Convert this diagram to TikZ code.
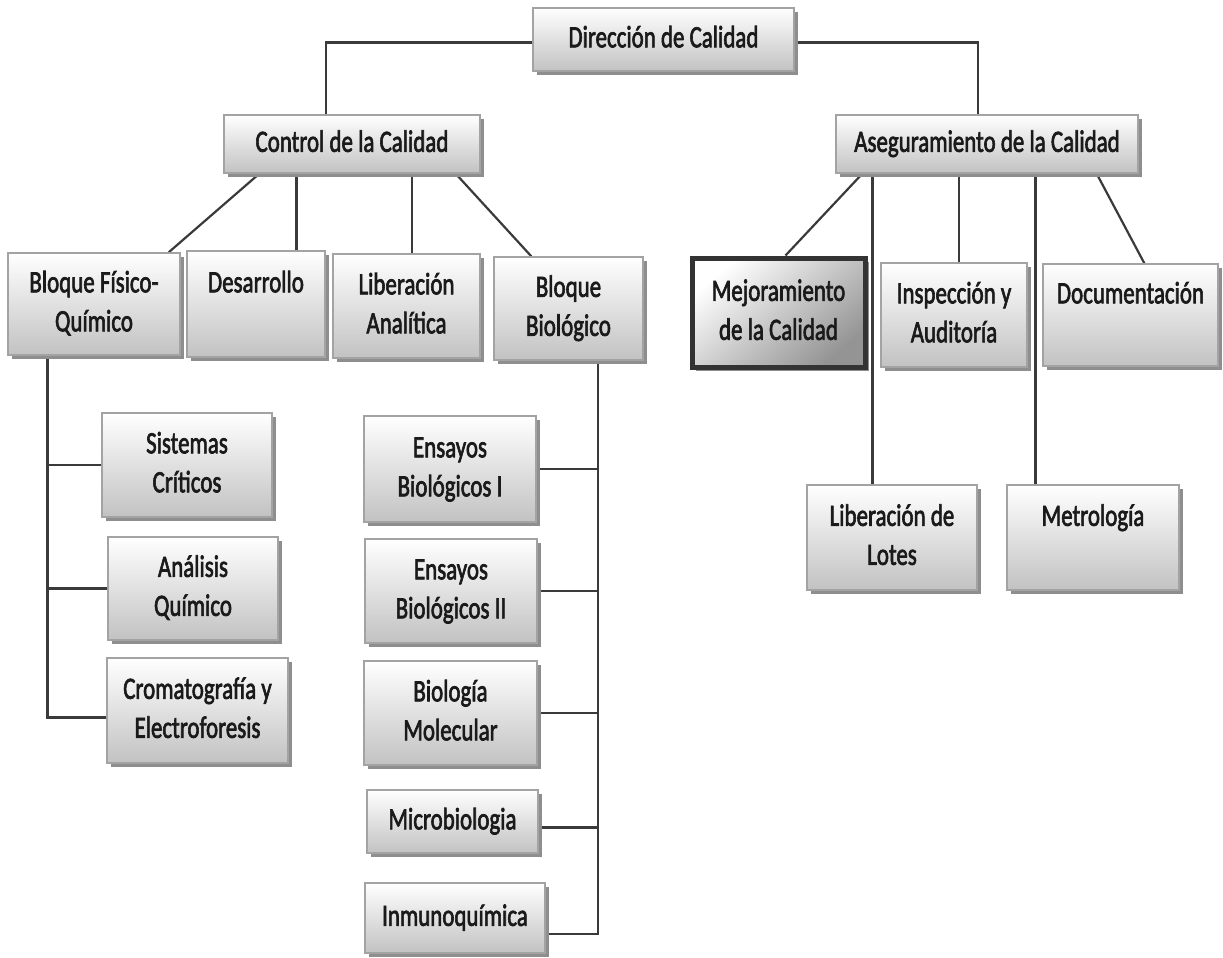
\documentclass[tikz,border=0pt]{standalone}
\usepackage{fontspec}
\setmainfont{Carlito}
\newfontfamily\labelfont{Carlito}[FakeBold=2.5]
\usepackage{graphicx}
\usetikzlibrary{shadows,backgrounds,calc}

\definecolor{boxline}{HTML}{A3A3A3}
\definecolor{boxlow}{HTML}{C2C2C2}
\definecolor{wire}{HTML}{3A3A3A}
\definecolor{shadowgray}{HTML}{8E8E8E}
\definecolor{txt}{HTML}{1A1A1A}

% condensed, centred multi-line label
\newcommand\narrow[1]{\scalebox{0.74}[1]{\begin{tabular}{@{}c@{}}#1\end{tabular}}}
% \orgbox[style]{name}{x1}{y1}{x2}{y2}{text}
\newcommand\orgbox[7][unit]{%
  \node[#1,minimum width={#5-#3},minimum height={#6-#4}] (#2)
    at ({(#3+#5)/2},{(#4+#6)/2}) {\narrow{#7}};}

\tikzset{
  unit/.style={draw=boxline, line width=1.2pt, top color=white, bottom color=boxlow,
    inner sep=0pt, text=txt, font=\labelfont\fontsize{31}{39}\selectfont,
    drop shadow={shadow xshift=4pt, shadow yshift=-4pt, fill=shadowgray, opacity=1}},
  focus/.style={unit, draw=black!80, line width=5pt, top color=white,
    bottom color=black!42, shading angle=40},
  wire/.style={draw=wire, line width=2.2pt},
}

\begin{document}
\begin{tikzpicture}[x=1pt,y=-1pt]
\useasboundingbox (0,0) rectangle (1223,958);

% top levels
\orgbox{dir}{533}{8}{794}{71}{Dirección de Calidad}
\orgbox{ctrl}{224}{115}{480}{173}{Control de la Calidad}
\orgbox{aseg}{836}{115}{1138}{173}{Aseguramiento de la Calidad}

% quality control units
\orgbox{fq}{8}{253}{180}{355}{Bloque Físico-\\Químico}
\orgbox{des}{187}{251}{325}{357}{Desarrollo\\\mbox{}}
\orgbox{lib}{333}{254}{480}{358}{Liberación\\Analítica}
\orgbox{bio}{494}{257}{643}{360}{Bloque\\Biológico}

% quality assurance units
\orgbox[focus]{mej}{692}{258}{865}{367}{Mejoramiento\\de la Calidad}
\orgbox{ins}{881}{263}{1027}{367}{Inspección y\\Auditoría}
\orgbox{doc}{1043}{264}{1218}{366}{Documentación\\\mbox{}}
\orgbox{lotes}{807}{485}{977}{590}{Liberación de\\Lotes}
\orgbox{met}{1007}{485}{1179}{590}{Metrología\\\mbox{}}

% physico-chemical block
\orgbox{sis}{102}{413}{272}{517}{Sistemas\\Críticos}
\orgbox{ana}{108}{537}{278}{640}{Análisis\\Químico}
\orgbox{crom}{107}{658}{288}{763}{Cromatografía y\\Electroforesis}

% biological block
\orgbox{ens1}{364}{416}{536}{522}{Ensayos\\Biológicos I}
\orgbox{ens2}{365}{539}{537}{643}{Ensayos\\Biológicos II}
\orgbox{biom}{364}{661}{537}{765}{Biología\\Molecular}
\orgbox{micro}{367}{790}{538}{853}{Microbiologia}
\orgbox{inmu}{365}{883}{545}{953}{Inmunoquímica}

\begin{scope}[on background layer]
  % direction
  \draw[wire] ([yshift=-3pt]dir.west) -| ([xshift=-26pt]ctrl.north);
  \draw[wire] ([yshift=-3pt]dir.east) -| ([xshift=-9pt]aseg.north);

  % control branches
  \draw[wire] ([xshift=36pt]ctrl.south west) -- ([xshift=-12pt]fq.north east);
  \coordinate (cdes) at ([xshift=73pt]ctrl.south west);
  \draw[wire] (cdes) -- (cdes |- des.north);
  \coordinate (clib) at ([xshift=60pt]ctrl.south);
  \draw[wire] (clib) -- (clib |- lib.north);
  \draw[wire] ([xshift=-25pt]ctrl.south east) -- ([xshift=38pt]bio.north west);

  % assurance branches
  \draw[wire] ([xshift=27pt]aseg.south west) -- ([xshift=96pt]mej.north west);
  \coordinate (alot) at ([xshift=37pt]aseg.south west);
  \draw[wire] (alot) -- (alot |- lotes.north);
  \coordinate (ains) at ([xshift=5pt]ins.north);
  \draw[wire] (ains |- aseg.south) -- (ains);
  \coordinate (amet) at ([xshift=29pt]met.north west);
  \draw[wire] (amet |- aseg.south) -- (amet);
  \draw[wire] ([xshift=-42pt]aseg.south east) -- ([xshift=102pt]doc.north west);

  % physico-chemical trunk
  \coordinate (fqt) at ([xshift=40pt]fq.south west);
  \draw[wire] (fqt) |- ([yshift=-7pt]crom.west);
  \draw[wire] (sis.west) -- (sis.west -| fqt);
  \draw[wire] (ana.west) -- (ana.west -| fqt);

  % biological trunk
  \coordinate (bt) at ([xshift=-46pt]bio.south east);
  \draw[wire] (bt) |- ([yshift=-16pt]inmu.east);
  \draw[wire] (ens1.east) -- (ens1.east -| bt);
  \draw[wire] (ens2.east) -- (ens2.east -| bt);
  \draw[wire] (biom.east) -- (biom.east -| bt);
  \draw[wire] ([yshift=-6pt]micro.east) -- ([yshift=-6pt]micro.east -| bt);
\end{scope}
\end{tikzpicture}
\end{document}
